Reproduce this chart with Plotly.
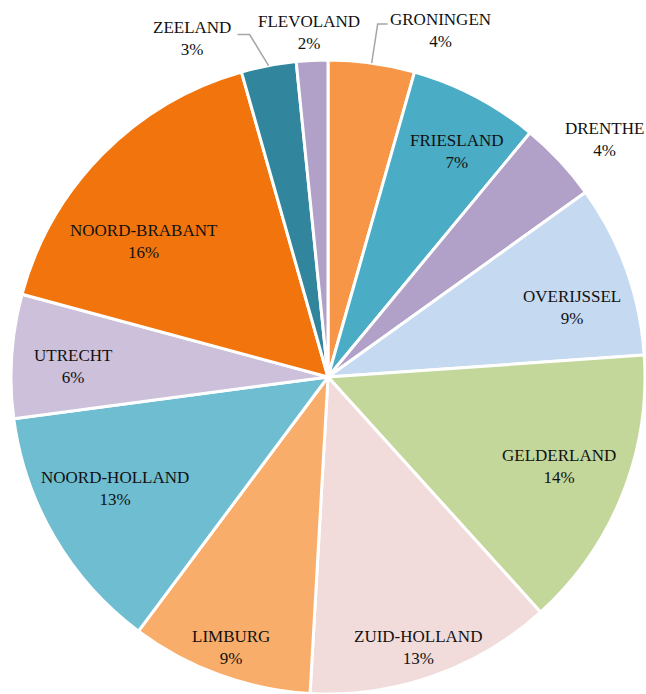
import math
import plotly.graph_objects as go

# Share of each province (percent), clockwise from 12 o'clock
provinces = [
    "GRONINGEN", "FRIESLAND", "DRENTHE", "OVERIJSSEL", "GELDERLAND",
    "ZUID-HOLLAND", "LIMBURG", "NOORD-HOLLAND", "UTRECHT",
    "NOORD-BRABANT", "ZEELAND", "FLEVOLAND",
]
shares = [4.4, 6.6, 4.1, 8.8, 14.4, 12.6, 9.3, 12.7, 6.3, 16.4, 2.8, 1.6]

colors = [
    "#F79646", "#4BACC6", "#B1A0C7", "#C5D9F1", "#C4D79B", "#F2DCDB",
    "#F9AD6A", "#6FBDD1", "#CCC0DA", "#F1750C", "#31859C", "#B1A0C7",
]

# Label placement: angular shift from the slice middle (deg) and radius factor
label_shift = [10.1, 2.0, 2.4, 4.0, -0.8, 1.1, -0.3, 2.8, -1.5, -8.2, -11.1, -0.3]
label_radius = [1.15, 0.82, 1.15, 0.80, 0.78, 0.90, 0.905, 0.76, 0.805, 0.72, 1.15, 1.09]
# Leader lines: elbow offset from the rim point and horizontal run (px)
leaders = {0: (6, -39, 10), 10: (-19, -31, -12)}

W, H = 646, 694
M_L, M_R, M_T, M_B = 10, 0, 60, 0
plot_w = W - M_L - M_R
plot_h = H - M_T - M_B
R = min(plot_w, plot_h) / 2
CX = M_L + plot_w / 2
CY = M_T + plot_h / 2


def to_paper(px, py):
    return (px - M_L) / plot_w, (H - M_B - py) / plot_h


def polar(angle_deg, r):
    a = math.radians(angle_deg)
    return CX + r * math.sin(a), CY - r * math.cos(a)


fig = go.Figure(
    go.Pie(
        labels=provinces,
        values=shares,
        sort=False,
        direction="clockwise",
        rotation=0,
        marker=dict(colors=colors, line=dict(color="white", width=3)),
        textposition="none",
        hoverinfo="label+percent",
        showlegend=False,
        domain=dict(x=[0, 1], y=[0, 1]),
    )
)

total = sum(shares)
annotations = []
shapes = []
cum = 0.0
for i, (name, v) in enumerate(zip(provinces, shares)):
    start = cum / total * 360
    cum += v
    end = cum / total * 360
    mid = (start + end) / 2
    pct = round(v / total * 100)

    lx, ly = polar(mid + label_shift[i], label_radius[i] * R)
    px, py = to_paper(lx, ly)
    annotations.append(dict(
        x=px, y=py, xref="paper", yref="paper",
        text=f"{name}<br>{pct}%", showarrow=False,
        xanchor="center", yanchor="middle", align="center",
        font=dict(family="Liberation Serif, serif", size=17, color="#111111"),
    ))

    if i in leaders:
        ex, ey, run = leaders[i]
        rx, ry = polar(mid, R)
        p0 = to_paper(rx, ry)
        p1 = to_paper(rx + ex, ry + ey)
        p2 = to_paper(rx + ex + run, ry + ey)
        shapes.append(dict(
            type="path", xref="paper", yref="paper",
            path=f"M {p0[0]},{p0[1]} L {p1[0]},{p1[1]} L {p2[0]},{p2[1]}",
            line=dict(color="#A6A6A6", width=1.5),
        ))

fig.update_layout(
    width=W, height=H,
    margin=dict(l=M_L, r=M_R, t=M_T, b=M_B, pad=0),
    paper_bgcolor="white", plot_bgcolor="white",
    annotations=annotations, shapes=shapes,
)

fig.write_html("out.html")
